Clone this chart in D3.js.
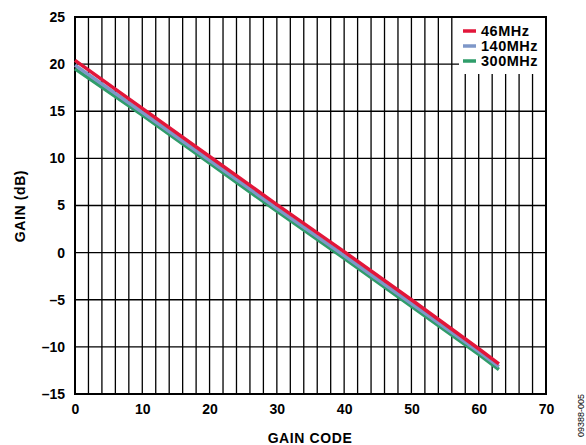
<!DOCTYPE html>
<html><head><meta charset="utf-8">
<script src="https://cdn.jsdelivr.net/npm/d3@7"></script>
<style>
body{margin:0;background:#fff;}
svg{display:block;font-family:"Liberation Sans",Arial,sans-serif;font-weight:bold;}
</style></head>
<body>
<script>
const gainCodes = [0, 10, 20, 30, 40, 50, 60, 63];
const gain46MHz  = [20.4, 15.3, 10.2, 5.1, 0.1, -5.0, -10.2, -11.8];
const gain140MHz = [19.9, 14.9, 9.8, 4.7, -0.3, -5.4, -10.5, -12.1];
const gain300MHz = [19.5, 14.6, 9.5, 4.4, -0.6, -5.7, -10.8, -12.4];
const seriesNames = ["46MHz", "140MHz", "300MHz"];
const seriesColors = ["#e2163a", "#7e97c8", "#2f9d6a"];
const xTicks = [0, 10, 20, 30, 40, 50, 60, 70];
const yTicks = [-15, -10, -5, 0, 5, 10, 15, 20, 25];
const xGrid = d3.range(0, 71, 2);

const W = 586, H = 445;
const m = {l: 75, r: 40, t: 17, b: 51};
const svg = d3.select("body").append("svg").attr("width", W).attr("height", H);
const x = d3.scaleLinear().domain([0, 70]).range([m.l, W - m.r]);
const y = d3.scaleLinear().domain([-15, 25]).range([H - m.b, m.t]);

// grid
const g = svg.append("g");
g.selectAll(".vg").data(xGrid).join("line")
  .attr("x1", d => x(d)).attr("x2", d => x(d))
  .attr("y1", y(25)).attr("y2", y(-15))
  .attr("stroke", "#000").attr("stroke-width", 1.3);
g.selectAll(".hg").data(yTicks).join("line")
  .attr("x1", x(0)).attr("x2", x(70))
  .attr("y1", d => y(d)).attr("y2", d => y(d))
  .attr("stroke", "#000").attr("stroke-width", 1.3);

// legend background (covers grid)
const lgX = 459, lgY = y(25) + 1, lgW = x(70) - 459 - 1, lgH = 56;
svg.append("rect").attr("x", lgX).attr("y", lgY).attr("width", lgW).attr("height", lgH).attr("fill", "#fff");

// frame
svg.append("rect").attr("x", x(0)).attr("y", y(25))
  .attr("width", x(70) - x(0)).attr("height", y(-15) - y(25))
  .attr("fill", "none").attr("stroke", "#000").attr("stroke-width", 2);

// series
const series = [gain46MHz, gain140MHz, gain300MHz];
const line = d3.line().x((d, i) => x(gainCodes[i])).y(d => y(d));
[2, 1, 0].forEach(k => {
  svg.append("path").datum(series[k]).attr("d", line)
    .attr("fill", "none").attr("stroke", seriesColors[k]).attr("stroke-width", 3.5);
});

// axes
const xAxis = svg.append("g").attr("transform", `translate(0,${y(-15)})`)
  .call(d3.axisBottom(x).tickValues(xTicks).tickSize(0).tickPadding(10).tickFormat(d3.format("d")));
xAxis.select(".domain").remove();
xAxis.selectAll("text").attr("font-size", 14).attr("font-family", "Liberation Sans, Arial").attr("font-weight", "bold").attr("fill", "#000");

const fmtY = d => d < 0 ? "\u2013" + Math.abs(d) : String(d);
const yAxis = svg.append("g").attr("transform", `translate(${x(0)},0)`)
  .call(d3.axisLeft(y).tickValues(yTicks).tickSize(0).tickPadding(10).tickFormat(fmtY));
yAxis.select(".domain").remove();
yAxis.selectAll("text").attr("font-size", 14).attr("font-family", "Liberation Sans, Arial").attr("font-weight", "bold").attr("fill", "#000");

// axis titles
svg.append("text").attr("x", 310).attr("y", 443).attr("text-anchor", "middle")
  .attr("font-size", 14).attr("letter-spacing", 0.6).text("GAIN CODE");
svg.append("text").attr("transform", "translate(25,206) rotate(-90)").attr("text-anchor", "middle")
  .attr("font-size", 14).attr("letter-spacing", 0.6).text("GAIN (dB)");

// legend
seriesNames.forEach((n, i) => {
  const cy = 31 + i * 15;
  svg.append("line").attr("x1", 463).attr("x2", 476).attr("y1", cy).attr("y2", cy)
    .attr("stroke", seriesColors[i]).attr("stroke-width", 3.5);
  svg.append("text").attr("x", 481).attr("y", cy + 5).attr("font-size", 14.5)
    .attr("letter-spacing", 0.5).text(n);
});

// figure id
svg.append("text").attr("transform", "translate(584,394) rotate(-90)").attr("text-anchor", "end")
  .attr("font-size", 9).attr("font-weight", "normal").text("09388-005");
</script>
</body></html>
